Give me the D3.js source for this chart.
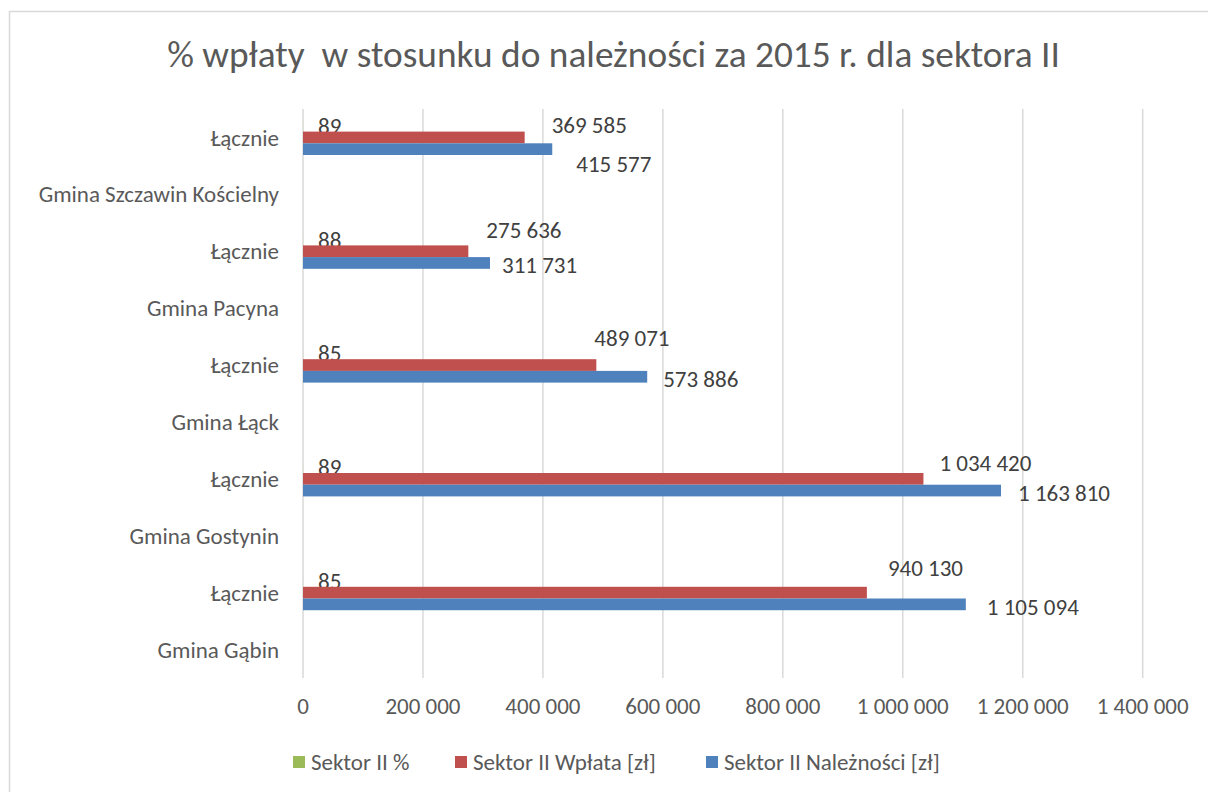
<!DOCTYPE html>
<html>
<head>
<meta charset="utf-8">
<script src="https://cdn.jsdelivr.net/npm/d3@7"></script>
<style>
  body { margin: 0; background: #fff; }
  svg { display: block; font-family: Carlito, Lato, "Open Sans", sans-serif; }
</style>
</head>
<body>
<svg></svg>
<script>
// categories bottom -> top, as Excel stacks them
var categories = ["Gmina Gąbin", "Łącznie", "Gmina Gostynin", "Łącznie", "Gmina Łąck", "Łącznie",
  "Gmina Pacyna", "Łącznie", "Gmina Szczawin Kościelny", "Łącznie"];
var pctValues = [null, 85, null, 89, null, 85, null, 88, null, 89];
var wplataValues = [null, 940130, null, 1034420, null, 489071, null, 275636, null, 369585];
var naleznosciValues = [null, 1105094, null, 1163810, null, 573886, null, 311731, null, 415577];
var xTicks = [0, 200000, 400000, 600000, 800000, 1000000, 1200000, 1400000];
var seriesNames = ["Sektor II %", "Sektor II Wpłata [zł]", "Sektor II Należności [zł]"];

// label nudges (dx from bar end, dy from bar centre) - moved by hand in the original
var wplataNudge = [null, [21, -25], null, [16, -16], null, [-2, -27], null, [18, -21], null, [27, -13]];
var naleznosciNudge = [null, [21, 3], null, [17, 2], null, [16, 2], null, [12, 2], null, [24, 15]];

var colors = ["#9BBB59", "#C0504D", "#4F81BD"];
var textColor = "#595959";
var fs = 23;

var W = 1208, H = 792;
var svg = d3.select("svg").attr("width", W).attr("height", H);

// chart border
svg.append("rect")
  .attr("x", 9.5).attr("y", 11.5)
  .attr("width", 1400).attr("height", 1000)
  .attr("fill", "none").attr("stroke", "#D9D9D9").attr("stroke-width", 1.5);

var plot = { left: 303, right: 1142.7, top: 109, bottom: 678 };

var x = d3.scaleLinear().domain([0, 1400000]).range([plot.left, plot.right]);
var y = d3.scaleBand().domain(d3.range(categories.length)).range([plot.bottom, plot.top]);
var ySub = d3.scaleBand().domain([0, 1, 2]).range([0, y.bandwidth()]).paddingOuter(0.93).paddingInner(0);

// title
var title = svg.append("text")
  .attr("x", 613.5).attr("y", 67)
  .attr("text-anchor", "middle")
  .attr("fill", textColor)
  .attr("font-size", 30)
  .style("white-space", "pre")
  .text("% wpłaty  w stosunku do należności za 2015 r. dla sektora II");
var tw = title.node().getComputedTextLength();
title.attr("font-size", 30 * 893 / tw);

// gridlines
svg.append("g").selectAll("line")
  .data(xTicks)
  .join("line")
  .attr("x1", d => x(d)).attr("x2", d => x(d))
  .attr("y1", plot.top).attr("y2", plot.bottom)
  .attr("stroke", "#D9D9D9").attr("stroke-width", 1.5);

var fmt = v => d3.format(",")(v).replace(/,/g, " ");

// x tick labels
svg.append("g").selectAll("text")
  .data(xTicks)
  .join("text")
  .attr("x", d => x(d)).attr("y", 706)
  .attr("dy", "0.35em")
  .attr("text-anchor", "middle")
  .attr("fill", textColor)
  .attr("font-size", fs)
  .text(fmt);

// category labels
svg.append("g").selectAll("text")
  .data(categories)
  .join("text")
  .attr("x", 279)
  .attr("y", (d, i) => y(i) + y.bandwidth() / 2)
  .attr("dy", "0.35em")
  .attr("text-anchor", "end")
  .attr("fill", textColor)
  .attr("font-size", fs)
  .text(d => d);

// bars
var allSeries = [pctValues, wplataValues, naleznosciValues];
var nudges = [null, wplataNudge, naleznosciNudge];

allSeries.forEach(function(vals, s) {
  var rows = vals.map((v, i) => ({ v: v, i: i })).filter(d => d.v != null);
  svg.append("g").selectAll("rect")
    .data(rows)
    .join("rect")
    .attr("x", x(0))
    .attr("y", d => y(d.i) + ySub(s))
    .attr("width", d => x(d.v) - x(0))
    .attr("height", ySub.bandwidth())
    .attr("fill", colors[s]);

  svg.append("g").selectAll("text")
    .data(rows)
    .join("text")
    .attr("x", d => x(d.v) + (s === 0 ? 15 : nudges[s][d.i][0]))
    .attr("y", d => y(d.i) + ySub(s) + ySub.bandwidth() / 2 + (s === 0 ? 0 : nudges[s][d.i][1]))
    .attr("dy", "0.35em")
    .attr("fill", "#404040")
    .attr("font-size", fs)
    .text(d => fmt(d.v));
});

// legend
var legendX = [293, 455, 706];
var legend = svg.append("g").selectAll("g")
  .data(seriesNames)
  .join("g")
  .attr("transform", (d, i) => "translate(" + legendX[i] + ",762)");
legend.append("rect")
  .attr("x", 0).attr("y", -6)
  .attr("width", 12).attr("height", 12)
  .attr("fill", (d, i) => colors[i]);
legend.append("text")
  .attr("x", 18).attr("dy", "0.35em")
  .attr("fill", textColor)
  .attr("font-size", fs)
  .text(d => d);
</script>
</body>
</html>
